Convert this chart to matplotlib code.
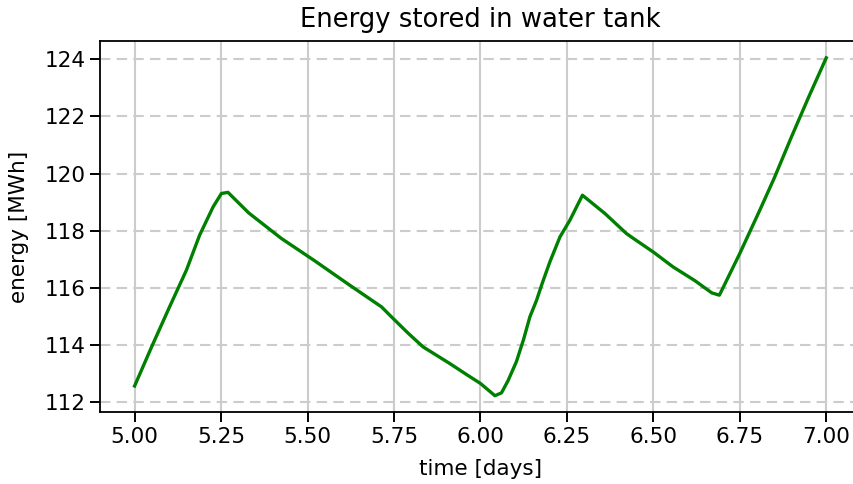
import matplotlib
matplotlib.use("Agg")
import matplotlib.pyplot as plt

time_days = [5.000, 5.050, 5.100, 5.150, 5.188, 5.227, 5.251, 5.270, 5.330, 5.424,
             5.520, 5.622, 5.714, 5.747, 5.790, 5.834, 5.911, 5.960, 6.000, 6.042,
             6.061, 6.080, 6.104, 6.125, 6.143, 6.162, 6.180, 6.201, 6.230, 6.259,
             6.295, 6.360, 6.422, 6.442, 6.500, 6.557, 6.620, 6.669, 6.691, 6.750,
             6.808, 6.850, 6.900, 6.950, 7.000]
energy_mwh = [112.56, 113.95, 115.30, 116.62, 117.84, 118.83, 119.30, 119.34, 118.62, 117.73,
              116.95, 116.09, 115.33, 114.93, 114.42, 113.93, 113.35, 112.96, 112.65, 112.22,
              112.32, 112.75, 113.41, 114.20, 114.98, 115.55, 116.20, 116.91, 117.78, 118.37,
              119.24, 118.60, 117.90, 117.73, 117.25, 116.73, 116.25, 115.82, 115.74, 117.20,
              118.72, 119.85, 121.30, 122.70, 124.05]

x_ticks = [5.00, 5.25, 5.50, 5.75, 6.00, 6.25, 6.50, 6.75, 7.00]
y_ticks = [112, 114, 116, 118, 120, 122, 124]

fs = 15.5
fig = plt.figure(figsize=(8.54, 4.84), dpi=100)
ax = fig.add_axes([0.1171, 0.1488, 0.8909, 0.7665])
ax.plot(time_days, energy_mwh, color="green", lw=2.4)
ax.set_xticks(x_ticks)
ax.set_xticklabels([f"{t:.2f}" for t in x_ticks])
ax.set_yticks(y_ticks)
ax.set_xlim(4.9, 7.1)
ax.set_ylim(111.65, 124.64)
ax.grid(axis="x", color="#cccccc", lw=1.5, ls="-")
ax.grid(axis="y", color="#cccccc", lw=1.5, ls=(0, (5, 3)))
ax.set_axisbelow(True)
ax.tick_params(labelsize=fs, length=7, width=1.4)
for s in ax.spines.values():
    s.set_linewidth(1.3)
ax.set_xlabel("time [days]", fontsize=fs, labelpad=9)
ax.set_ylabel("energy [MWh]", fontsize=fs, labelpad=11)
ax.set_title("Energy stored in water tank", fontsize=18.6, pad=10)
fig.savefig("out.png", dpi=100)
